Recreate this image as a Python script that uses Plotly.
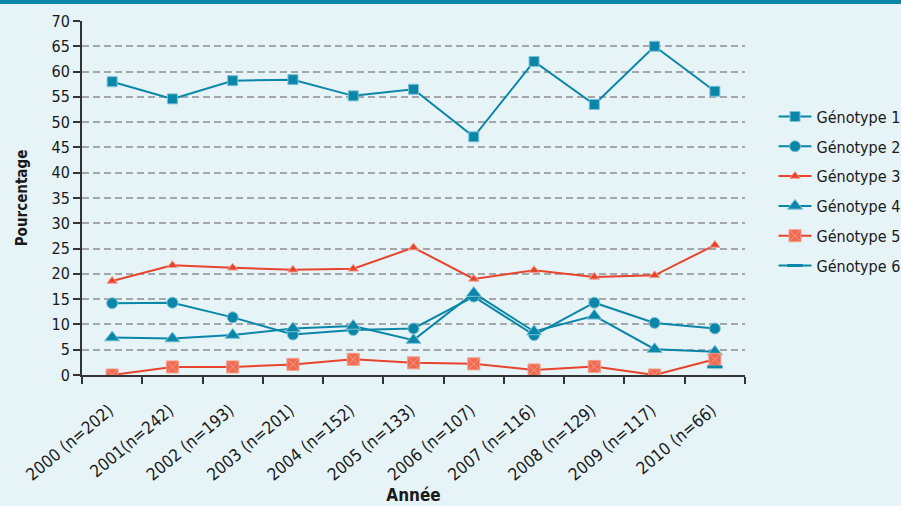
import plotly.graph_objects as go

# Data
annees = ["2000 (n=202)", "2001(n=242)", "2002 (n=193)", "2003 (n=201)",
          "2004 (n=152)", "2005 (n=133)", "2006 (n=107)", "2007 (n=116)",
          "2008 (n=129)", "2009 (n=117)", "2010 (n=66)"]
genotype_1 = [58.0, 54.6, 58.2, 58.4, 55.2, 56.5, 47.1, 62.0, 53.5, 65.0, 56.1]
genotype_2 = [14.2, 14.3, 11.4, 8.0, 8.9, 9.2, 15.5, 7.9, 14.3, 10.3, 9.2]
genotype_3 = [18.6, 21.7, 21.2, 20.8, 21.0, 25.2, 19.0, 20.7, 19.4, 19.7, 25.7]
genotype_4 = [7.4, 7.2, 7.9, 9.2, 9.7, 6.9, 16.2, 8.6, 11.7, 5.1, 4.6]
genotype_5 = [0.0, 1.6, 1.6, 2.1, 3.1, 2.4, 2.2, 1.0, 1.7, 0.0, 3.1]
genotype_6 = [None, None, None, None, None, None, None, None, None, None, 1.6]

TEAL = "#0A86A8"
RED = "#E8432D"
SALMON = "#F06A52"
BG = "#E6F3F7"
FONT = "DejaVu Sans Condensed, Liberation Sans Narrow, Roboto, sans-serif"

series = [
    ("Génotype 1", genotype_1, TEAL, dict(symbol="square", size=10, color=TEAL,
                                          line=dict(color="#7CC3D6", width=1))),
    ("Génotype 2", genotype_2, TEAL, dict(symbol="circle", size=11, color=TEAL,
                                          line=dict(color="#7CC3D6", width=1))),
    ("Génotype 3", genotype_3, RED, dict(symbol="triangle-up", size=9, color=RED,
                                         line=dict(color="#F3A090", width=1))),
    ("Génotype 4", genotype_4, TEAL, dict(symbol="triangle-up", size=13, color=TEAL,
                                          line=dict(color="#7CC3D6", width=1))),
    ("Génotype 5", genotype_5, SALMON, dict(symbol="square-x", size=12, color=SALMON,
                                            line=dict(color="#F59A88", width=1))),
    ("Génotype 6", genotype_6, TEAL, dict(symbol="line-ew", size=11, color=TEAL,
                                          line=dict(color=TEAL, width=3))),
]

fig = go.Figure()
for i, (name, vals, col, mk) in enumerate(series):
    fig.add_trace(go.Scatter(
        x=annees, y=vals, name=name, mode="lines+markers",
        line=dict(color=RED if col == SALMON else col, width=2),
        marker=mk, legendgroup=f"g{i}", connectgaps=False,
    ))

fig.update_layout(
    width=901, height=506,
    margin=dict(l=82, r=156, t=21, b=131, autoexpand=False),
    paper_bgcolor=BG, plot_bgcolor=BG,
    font=dict(family=FONT, size=16, color="#1a1a1a"),
    showlegend=True,
    legend=dict(x=1.043, y=0.778, xanchor="left", yanchor="top",
                bgcolor="rgba(0,0,0,0)", font=dict(size=16),
                traceorder="grouped", tracegroupgap=6, itemwidth=33),
    shapes=[dict(type="rect", xref="paper", yref="paper",
                 x0=-82 / 663, x1=(901 - 82) / 663,
                 y0=(375 - 4) / 354, y1=375 / 354 + 0.01,
                 fillcolor=TEAL, line=dict(width=0), layer="above")],
)

fig.update_xaxes(
    type="category", range=[-0.5, len(annees) - 0.5],
    showgrid=False, showline=True, linecolor="#333333",
    linewidth=2, ticks="outside", tickson="boundaries", ticklen=7,
    tickcolor="#333333", tickwidth=1.5, tickangle=-40, automargin=False,
    tickfont=dict(size=17), ticklabelstandoff=17, ticklabelshift=-3,
    title=dict(text="<b>Année</b>", font=dict(size=17), standoff=4),
)
fig.update_yaxes(
    range=[0, 70], dtick=5, showline=True, linecolor="#333333", linewidth=2,
    ticks="outside", ticklen=7, tickcolor="#333333", tickwidth=1.5,
    showgrid=True, gridcolor="#A3A7A9", griddash="7px,4px", gridwidth=1.5,
    zeroline=False, tickfont=dict(size=16), automargin=False,
    title=dict(text="<b>Pourcentage</b>", font=dict(size=15), standoff=20),
)

fig.write_html("out.html", post_script="document.body.style.margin='0';",
               config={"displayModeBar": False})
